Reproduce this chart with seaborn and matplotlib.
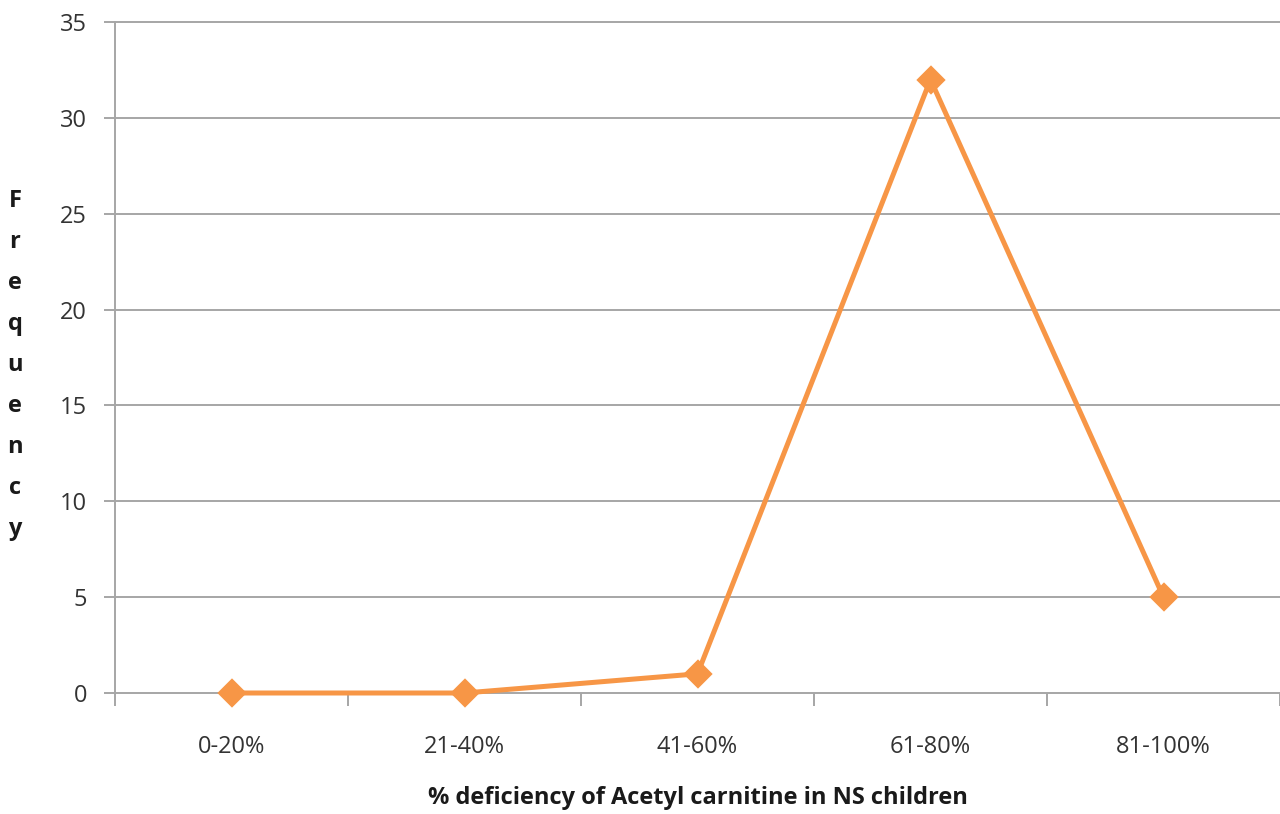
import matplotlib
matplotlib.use("Agg")
import matplotlib.pyplot as plt
import seaborn as sns
import pandas as pd
import numpy as np

categories = ["0-20%", "21-40%", "41-60%", "61-80%", "81-100%"]
frequency = [0, 0, 1, 32, 5]
y_ticks = [0, 5, 10, 15, 20, 25, 30, 35]

sns.set_theme(style="white")
plt.rcParams["font.family"] = ["Open Sans", "DejaVu Sans"]

df = pd.DataFrame({"range": categories, "freq": frequency})

fig = plt.figure(figsize=(12.8, 8.14), dpi=100)
ax = fig.add_axes([115 / 1280, 1 - 693 / 814, 1 - 115 / 1280, (693 - 22) / 814])

grid_color = "#A6A6A6"
line_color = "#F79646"

for v in y_ticks:
    ax.axhline(v, color=grid_color, lw=1.4, zorder=0)

sns.pointplot(data=df, x="range", y="freq", order=categories, color=line_color,
              markers="D", markersize=12, linewidth=3.6, ax=ax, zorder=3)
for coll in ax.collections:
    coll.set_clip_on(False)
for ln in ax.lines:
    ln.set_clip_on(False)

ax.set_xlim(-0.5, len(categories) - 0.5)
ax.set_ylim(0, 35)
ax.set_yticks(y_ticks)
ax.set_yticklabels([str(v) for v in y_ticks], fontsize=17, color="#333333")
ax.set_xticks(range(len(categories)))
ax.set_xticklabels(categories, fontsize=17, color="#333333")
ax.set_xticks(np.arange(-0.5, len(categories), 1.0), minor=True)

ax.tick_params(axis="x", which="major", length=0, pad=30)
ax.tick_params(axis="x", which="minor", length=9, width=1.4, color=grid_color,
               direction="out", bottom=True)
ax.tick_params(axis="y", which="major", length=8, width=1.4, color=grid_color,
               direction="out", left=True, pad=12)

for side in ["top", "right", "bottom"]:
    ax.spines[side].set_visible(False)
ax.spines["left"].set_color(grid_color)
ax.spines["left"].set_linewidth(1.4)

ax.set_xlabel("% deficiency of Acetyl carnitine in NS children", fontsize=17,
              fontweight="bold", color="#1a1a1a", labelpad=20)
ax.set_ylabel("")
fig.text(15 / 1280, 1 - 365 / 814, "\n".join("Frequency"), ha="center", va="center",
         fontsize=17, fontweight="bold", color="#1a1a1a", linespacing=1.95)

fig.savefig("out.png", dpi=100, facecolor="white")
